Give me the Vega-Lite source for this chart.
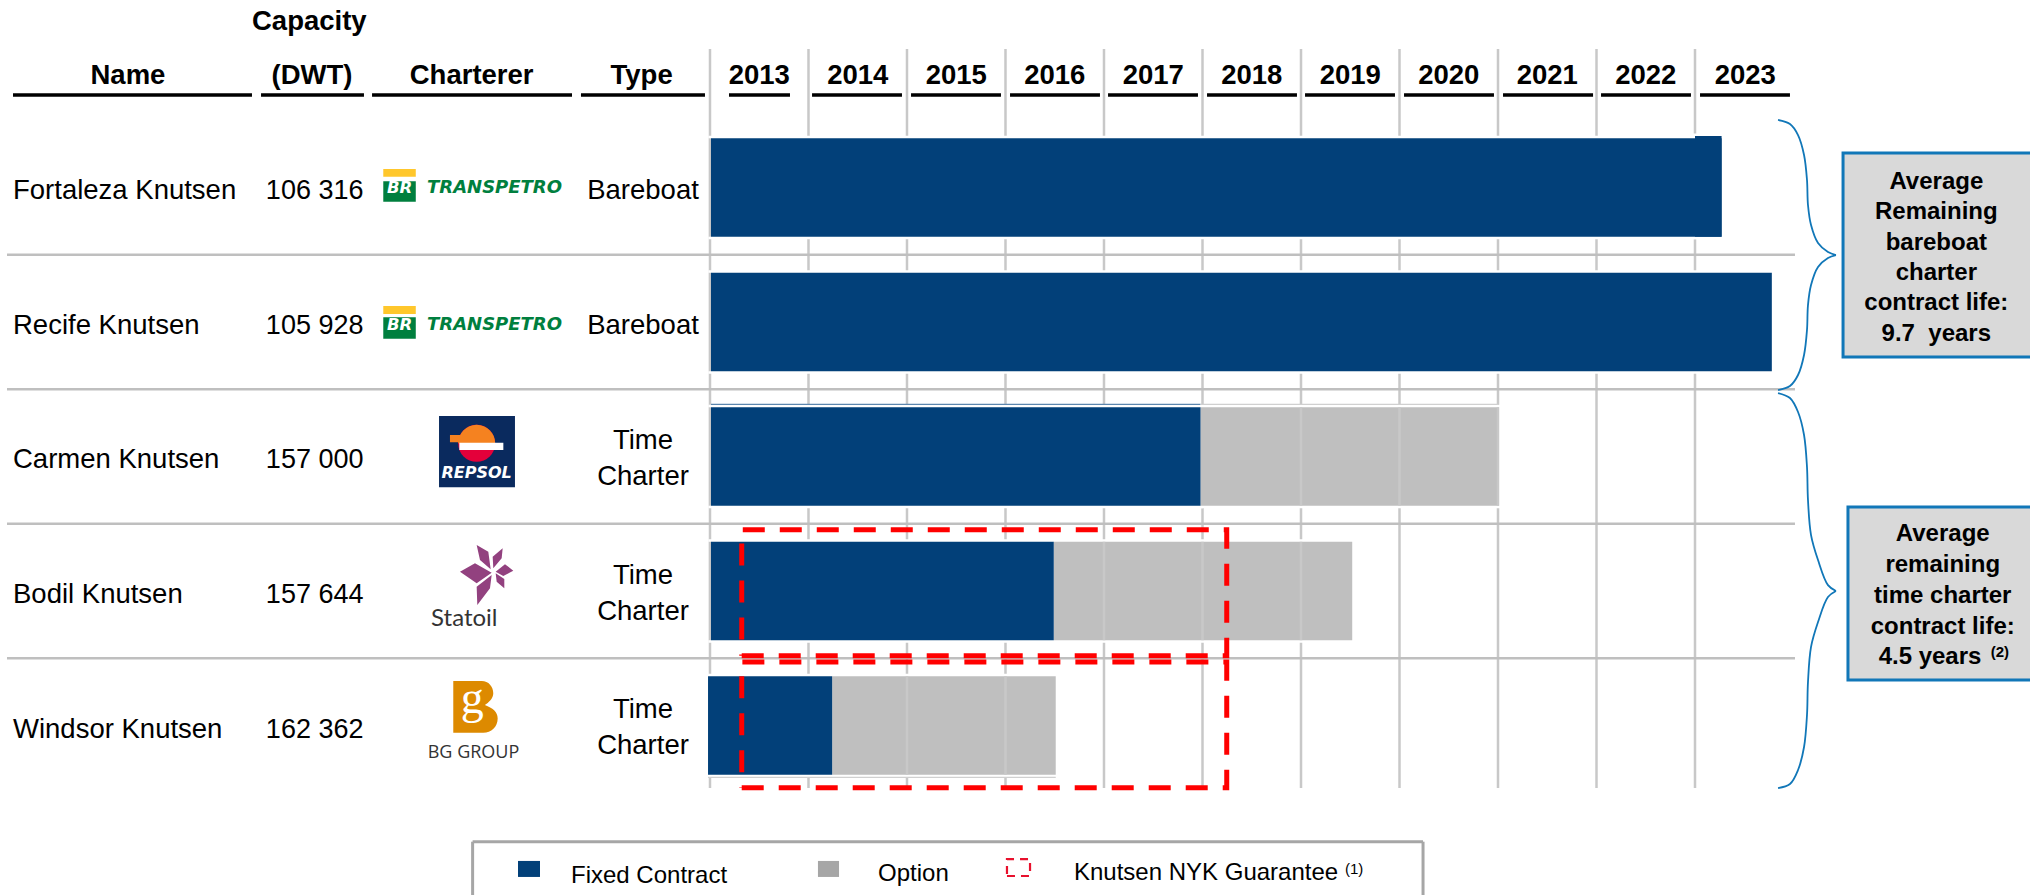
{"$schema":"https://vega.github.io/schema/vega-lite/v6.json","width":2030,"height":895,"padding":0,"autosize":{"type":"none"},"background":"#ffffff","config":{"view":{"stroke":null},"text":{"font":"Liberation Sans","fontSize":27.5,"color":"#000000"}},
"datasets":{
"grid":[{"year":2013,"row":-0.0297,"rowEnd":5.4647},{"year":2014,"row":-0.0297,"rowEnd":5.4647},{"year":2015,"row":-0.0297,"rowEnd":5.4647},{"year":2016,"row":-0.0297,"rowEnd":5.4647},{"year":2017,"row":-0.0297,"rowEnd":5.4647},{"year":2018,"row":-0.0297,"rowEnd":5.4647},{"year":2019,"row":-0.0297,"rowEnd":5.4647},{"year":2020,"row":-0.0297,"rowEnd":5.4647},{"year":2021,"row":-0.0297,"rowEnd":5.4647},{"year":2022,"row":-0.0297,"rowEnd":5.4647},{"year":2023,"row":-0.0297,"rowEnd":5.4647}],
"bars":[
{"name":"Fortaleza Knutsen","kind":"Fixed Contract","year":2013.01,"yearEnd":2023.27,"row":0.634,"rowEnd":1.366},
{"name":"Fortaleza Knutsen","kind":"Fixed Contract","year":2023.0,"yearEnd":2023.27,"row":0.617,"rowEnd":1.366},
{"name":"Recife Knutsen","kind":"Fixed Contract","year":2013.01,"yearEnd":2023.78,"row":1.634,"rowEnd":2.366},
{"name":"Carmen Knutsen","kind":"Fixed Contract","year":2013.01,"yearEnd":2017.98,"row":2.634,"rowEnd":3.366},
{"name":"Carmen Knutsen","kind":"Option","year":2017.98,"yearEnd":2021.01,"row":2.634,"rowEnd":3.366},
{"name":"Bodil Knutsen","kind":"Fixed Contract","year":2013.01,"yearEnd":2016.49,"row":3.634,"rowEnd":4.366},
{"name":"Bodil Knutsen","kind":"Option","year":2016.49,"yearEnd":2019.52,"row":3.634,"rowEnd":4.366},
{"name":"Windsor Knutsen","kind":"Fixed Contract","year":2012.98,"yearEnd":2014.24,"row":4.634,"rowEnd":5.366},
{"name":"Windsor Knutsen","kind":"Option","year":2014.24,"yearEnd":2016.51,"row":4.634,"rowEnd":5.366}],
"innerGrid":[
{"year":2013,"row":0.634,"rowEnd":1.366},{"year":2013,"row":1.634,"rowEnd":2.366},{"year":2013,"row":2.634,"rowEnd":3.366},{"year":2013,"row":3.634,"rowEnd":4.366},
{"year":2019,"row":2.634,"rowEnd":3.366},{"year":2020,"row":2.634,"rowEnd":3.366},{"year":2021,"row":2.634,"rowEnd":3.366},
{"year":2017,"row":3.634,"rowEnd":4.366},{"year":2018,"row":3.634,"rowEnd":4.366},{"year":2019,"row":3.634,"rowEnd":4.366},
{"year":2015,"row":4.634,"rowEnd":5.366},{"year":2016,"row":4.634,"rowEnd":5.366}]
},
"encoding":{
"x":{"field":"year","type":"quantitative","axis":null,"scale":{"domain":[2005.7919,2026.401],"nice":false,"zero":false}},
"y":{"field":"row","type":"quantitative","axis":null,"scale":{"domain":[-0.3941,6.2602],"nice":false,"zero":false,"reverse":true}}},
"layer":[
{"data":{"name":"grid"},"mark":{"type":"rule","stroke":"#C8C8C8","strokeWidth":2.5},"encoding":{"y2":{"field":"rowEnd"}}},
{"data":{"values":[{"year":2005.863,"yearEnd":2024.015,"row":1.5},{"year":2005.863,"yearEnd":2024.015,"row":2.5},{"year":2005.863,"yearEnd":2024.015,"row":3.5},{"year":2005.863,"yearEnd":2024.015,"row":4.5}]},"mark":{"type":"rule","stroke":"#BFBFBF","strokeWidth":2.5},"encoding":{"x2":{"field":"yearEnd"}}},
{"data":{"values":[{"year":2005.924,"yearEnd":2008.35,"row":0.3123},{"year":2008.442,"yearEnd":2009.487,"row":0.3123},{"year":2009.569,"yearEnd":2011.599,"row":0.3123},{"year":2011.69,"yearEnd":2012.949,"row":0.3123},{"year":2013.193,"yearEnd":2013.812,"row":0.3123},{"year":2014.036,"yearEnd":2014.949,"row":0.3123},{"year":2015.041,"yearEnd":2015.954,"row":0.3123},{"year":2016.046,"yearEnd":2016.959,"row":0.3123},{"year":2017.041,"yearEnd":2017.954,"row":0.3123},{"year":2018.046,"yearEnd":2018.959,"row":0.3123},{"year":2019.041,"yearEnd":2019.954,"row":0.3123},{"year":2020.046,"yearEnd":2020.959,"row":0.3123},{"year":2021.051,"yearEnd":2021.965,"row":0.3123},{"year":2022.046,"yearEnd":2022.959,"row":0.3123},{"year":2023.051,"yearEnd":2023.964,"row":0.3123}]},"mark":{"type":"rule","stroke":"#000000","strokeWidth":3.6},"encoding":{"x2":{"field":"yearEnd"}}},
{"data":{"name":"bars"},"mark":{"type":"rect","fill":"#ffffff","stroke":"#ffffff","strokeWidth":5},"encoding":{"x2":{"field":"yearEnd"},"y2":{"field":"rowEnd"}}},
{"data":{"values":[{"year":2013.01,"yearEnd":2017.98,"row":2.612}]},"mark":{"type":"rule","stroke":"#5B86AE","strokeWidth":1.2},"encoding":{"x2":{"field":"yearEnd"}}},
{"data":{"values":[{"year":2017.98,"yearEnd":2021.01,"row":2.612},{"year":2012.98,"yearEnd":2016.51,"row":5.385}]},"mark":{"type":"rule","stroke":"#D0D0D0","strokeWidth":1.2},"encoding":{"x2":{"field":"yearEnd"}}},
{"data":{"name":"bars"},"transform":[{"filter":"datum.kind === 'Option'"}],"mark":{"type":"rect","fill":"#BFBFBF"},"encoding":{"x2":{"field":"yearEnd"},"y2":{"field":"rowEnd"}}},
{"data":{"name":"innerGrid"},"mark":{"type":"rule","stroke":"#C8C8C8","strokeWidth":2.5},"encoding":{"y2":{"field":"rowEnd"}}},
{"data":{"name":"bars"},"transform":[{"filter":"datum.kind === 'Fixed Contract'"}],"mark":{"type":"rect","fill":"#024079"},"encoding":{"x2":{"field":"yearEnd"},"y2":{"field":"rowEnd"}}},
{"data":{"values":[{"label":"Capacity","year":2008.932,"row":-0.228},{"label":"(DWT)","year":2008.959,"row":0.174},{"label":"Name","year":2007.091,"row":0.174},{"label":"Charterer","year":2010.58,"row":0.174},{"label":"Type","year":2012.306,"row":0.174},{"label":"2013","year":2013.5,"row":0.174},{"label":"2014","year":2014.5,"row":0.174},{"label":"2015","year":2015.5,"row":0.174},{"label":"2016","year":2016.5,"row":0.174},{"label":"2017","year":2017.5,"row":0.174},{"label":"2018","year":2018.5,"row":0.174},{"label":"2019","year":2019.5,"row":0.174},{"label":"2020","year":2020.5,"row":0.174},{"label":"2021","year":2021.5,"row":0.174},{"label":"2022","year":2022.5,"row":0.174},{"label":"2023","year":2023.51,"row":0.174}]},"mark":{"type":"text","fontWeight":"bold","fontSize":27.5,"align":"center","baseline":"middle"},"encoding":{"text":{"field":"label"}}},
{"data":{"values":[{"label":"Fortaleza Knutsen","year":2005.924,"row":1.025},{"label":"Recife Knutsen","year":2005.924,"row":2.03},{"label":"Carmen Knutsen","year":2005.924,"row":3.025},{"label":"Bodil Knutsen","year":2005.924,"row":4.03},{"label":"Windsor Knutsen","year":2005.924,"row":5.03}]},"mark":{"type":"text","align":"left","baseline":"middle"},"encoding":{"text":{"field":"label"}}},
{"data":{"values":[{"label":"106 316","year":2009.482,"row":1.025},{"label":"105 928","year":2009.482,"row":2.03},{"label":"157 000","year":2009.482,"row":3.025},{"label":"157 644","year":2009.482,"row":4.03},{"label":"162 362","year":2009.482,"row":5.03}]},"mark":{"type":"text","fontSize":27,"align":"right","baseline":"middle"},"encoding":{"text":{"field":"label"}}},
{"data":{"values":[{"label":"Bareboat","year":2012.32,"row":1.025},{"label":"Bareboat","year":2012.32,"row":2.03},{"label":"Time\nCharter","year":2012.32,"row":2.888},{"label":"Time\nCharter","year":2012.32,"row":3.892},{"label":"Time\nCharter","year":2012.32,"row":4.888}]},"mark":{"type":"text","align":"center","baseline":"middle","lineBreak":"\n","lineHeight":36},"encoding":{"text":{"field":"label"}}},
{"data":{"values":[{"year":2009.683,"yearEnd":2010.013,"row":0.862,"rowEnd":0.92},{"year":2009.683,"yearEnd":2010.013,"row":1.881,"rowEnd":1.941}]},"mark":{"type":"rect","fill":"#FFC72C"},"encoding":{"x2":{"field":"yearEnd"},"y2":{"field":"rowEnd"}}},
{"data":{"values":[{"year":2009.683,"yearEnd":2010.013,"row":0.954,"rowEnd":1.106},{"year":2009.683,"yearEnd":2010.013,"row":1.965,"rowEnd":2.124}]},"mark":{"type":"rect","fill":"#007F3E"},"encoding":{"x2":{"field":"yearEnd"},"y2":{"field":"rowEnd"}}},
{"data":{"values":[{"label":"BR","year":2009.848,"row":1.005},{"label":"BR","year":2009.848,"row":2.02}]},"mark":{"type":"text","font":"DejaVu Sans","fontWeight":"bold","fontStyle":"italic","fontSize":16.5,"color":"#ffffff","align":"center","baseline":"middle"},"encoding":{"text":{"field":"label"}}},
{"data":{"values":[{"label":"TRANSPETRO","year":2010.127,"row":1.002},{"label":"TRANSPETRO","year":2010.127,"row":2.023}]},"mark":{"type":"text","font":"DejaVu Sans","fontWeight":"bold","fontStyle":"italic","fontSize":18,"color":"#007F3E","align":"left","baseline":"middle"},"encoding":{"text":{"field":"label"}}},
{"data":{"values":[{"year":2010.249,"yearEnd":2011.02,"row":2.699,"rowEnd":3.229}]},"mark":{"type":"rect","fill":"#0A2A5E"},"encoding":{"x2":{"field":"yearEnd"},"y2":{"field":"rowEnd"}}},
{"data":{"values":[{"year":2010.631,"row":2.902}]},"mark":{"type":"point","shape":"circle","filled":true,"size":1369,"fill":"#E4003A","opacity":1,"strokeWidth":0}},
{"data":{"values":[{"year":2010.631,"row":2.902}]},"mark":{"type":"point","shape":"M-1,0 C-1,-0.55 -0.55,-1 0,-1 C0.55,-1 1,-0.55 1,0 Z","filled":true,"size":1369,"fill":"#F58220","opacity":1,"strokeWidth":0}},
{"data":{"values":[{"year":2010.36,"yearEnd":2010.462,"row":2.84,"rowEnd":2.894}]},"mark":{"type":"rect","fill":"#F58220"},"encoding":{"x2":{"field":"yearEnd"},"y2":{"field":"rowEnd"}}},
{"data":{"values":[{"year":2010.455,"yearEnd":2010.902,"row":2.897,"rowEnd":2.952}]},"mark":{"type":"rect","fill":"#ffffff"},"encoding":{"x2":{"field":"yearEnd"},"y2":{"field":"rowEnd"}}},
{"data":{"values":[{"label":"REPSOL","year":2010.631,"row":3.12}]},"mark":{"type":"text","font":"DejaVu Sans","fontWeight":"bold","fontStyle":"italic","fontSize":16,"color":"#ffffff","align":"center","baseline":"middle"},"encoding":{"text":{"field":"label"}}},
{"data":{"values":[{"year":2010.807,"row":3.851}]},"mark":{"type":"point","filled":true,"size":6400,"fill":"#92417F","opacity":1,"strokeWidth":0,"shape":"M-.433,-.65 L-.142,-.483 L-.083,-.042 L-.35,-.275 Z M.217,-.567 L.192,-.317 L-.017,-.067 L-.033,-.358 Z M.483,-.008 L.233,.125 L.042,.017 L.275,-.167 Z M.258,.433 L.067,.267 L.042,.058 L.258,.2 Z M-.417,.85 L-.433,.392 L-.058,.1 L-.1,.433 Z M-.85,.017 L-.475,-.192 L-.058,.042 L-.433,.308 Z"}},
{"data":{"values":[{"label":"Statoil","year":2010.168,"row":4.208}]},"mark":{"type":"text","font":"Lato","fontSize":24,"color":"#333333","align":"left","baseline":"middle"},"encoding":{"text":{"field":"label"}}},
{"data":{"values":[{"year":2010.617,"row":4.86}]},"mark":{"type":"point","filled":true,"size":2844,"fill":"#DD8A00","opacity":1,"strokeWidth":0,"shape":"M-.825,-.96 L.24,-.96 C.5,-.96 .675,-.75 .675,-.5 C.675,-.3 .5,-.15 .36,-.06 C.65,.05 .84,.2 .84,.44 C.84,.75 .6,.975 .3,.975 L-.825,.975 Z"}},
{"data":{"values":[{"label":"g","year":2010.587,"row":4.907}]},"mark":{"type":"text","font":"Liberation Serif","fontSize":46,"color":"#ffffff","align":"center","baseline":"alphabetic"},"encoding":{"text":{"field":"label"}}},
{"data":{"values":[{"label":"BG GROUP","year":2010.599,"row":5.204}]},"mark":{"type":"text","font":"Open Sans","fontSize":18,"color":"#333333","align":"center","baseline":"middle"},"encoding":{"text":{"field":"label"}}},
{"data":{"values":[{"group":"Box A","seq":1,"year":2013.322,"row":4.481},{"group":"Box A","seq":2,"year":2018.246,"row":4.481},{"group":"Box A","seq":3,"year":2018.246,"row":3.544},{"group":"Box A","seq":4,"year":2013.322,"row":3.544},{"group":"Box A","seq":5,"year":2013.322,"row":4.481},{"group":"Box B","seq":1,"year":2013.322,"row":5.462},{"group":"Box B","seq":2,"year":2018.246,"row":5.462},{"group":"Box B","seq":3,"year":2018.246,"row":4.528},{"group":"Box B","seq":4,"year":2013.322,"row":4.528},{"group":"Box B","seq":5,"year":2013.322,"row":5.462}]},"mark":{"type":"line","stroke":"#FF0000","strokeWidth":5,"strokeDash":[22,15]},"encoding":{"order":{"field":"seq","type":"quantitative"},"detail":{"field":"group"}}},
{"data":{"values":[
{"part":"a","year":2023.843,"row":0.498},{"part":"a","year":2023.964,"row":0.528},{"part":"a","year":2024.046,"row":0.61},{"part":"a","year":2024.107,"row":0.758},{"part":"a","year":2024.137,"row":0.944},{"part":"a","year":2024.147,"row":1.13},{"part":"a","year":2024.178,"row":1.279},{"part":"a","year":2024.249,"row":1.413},{"part":"a","year":2024.35,"row":1.48},{"part":"a","year":2024.431,"row":1.502},
{"part":"b","year":2024.431,"row":1.502},{"part":"b","year":2024.35,"row":1.524},{"part":"b","year":2024.249,"row":1.591},{"part":"b","year":2024.178,"row":1.725},{"part":"b","year":2024.147,"row":1.874},{"part":"b","year":2024.137,"row":2.059},{"part":"b","year":2024.107,"row":2.245},{"part":"b","year":2024.046,"row":2.394},{"part":"b","year":2023.964,"row":2.476},{"part":"b","year":2023.843,"row":2.506},
{"part":"c","year":2023.843,"row":2.528},{"part":"c","year":2023.964,"row":2.565},{"part":"c","year":2024.046,"row":2.669},{"part":"c","year":2024.107,"row":2.84},{"part":"c","year":2024.137,"row":3.078},{"part":"c","year":2024.147,"row":3.323},{"part":"c","year":2024.178,"row":3.584},{"part":"c","year":2024.249,"row":3.77},{"part":"c","year":2024.35,"row":3.956},{"part":"c","year":2024.431,"row":4.0},
{"part":"d","year":2024.431,"row":4.0},{"part":"d","year":2024.35,"row":4.045},{"part":"d","year":2024.249,"row":4.231},{"part":"d","year":2024.178,"row":4.416},{"part":"d","year":2024.147,"row":4.677},{"part":"d","year":2024.137,"row":4.922},{"part":"d","year":2024.107,"row":5.16},{"part":"d","year":2024.046,"row":5.331},{"part":"d","year":2023.964,"row":5.435},{"part":"d","year":2023.843,"row":5.465}]},"mark":{"type":"line","stroke":"#1177B8","strokeWidth":1.8,"interpolate":"catmull-rom"},"encoding":{"order":{"field":"row","type":"quantitative"},"detail":{"field":"part"}}},
{"data":{"values":[{"year":2024.503,"yearEnd":2026.5,"row":0.7435,"rowEnd":2.26},{"year":2024.553,"yearEnd":2026.5,"row":3.375,"rowEnd":4.662}]},"mark":{"type":"rect","fill":"#D9D9D9","stroke":"#1177B8","strokeWidth":3},"encoding":{"x2":{"field":"yearEnd"},"y2":{"field":"rowEnd"}}},
{"data":{"values":[{"label":"Average\nRemaining\nbareboat\ncharter\ncontract life:\n9.7\u00a0 years","year":2025.45,"row":0.958}]},"mark":{"type":"text","fontWeight":"bold","fontSize":24,"align":"center","baseline":"middle","lineBreak":"\n","lineHeight":30.4},"encoding":{"text":{"field":"label"}}},
{"data":{"values":[{"label":"Average\nremaining\ntime charter\ncontract life:","year":2025.515,"row":3.575}]},"mark":{"type":"text","fontWeight":"bold","fontSize":24,"align":"center","baseline":"middle","lineBreak":"\n","lineHeight":31},"encoding":{"text":{"field":"label"}}},
{"data":{"values":[{"label":"4.5 years","year":2025.386,"row":4.489}]},"mark":{"type":"text","fontWeight":"bold","fontSize":24,"align":"center","baseline":"middle"},"encoding":{"text":{"field":"label"}}},
{"data":{"values":[{"label":"(2)","year":2026.096,"row":4.454}]},"mark":{"type":"text","fontWeight":"bold","fontSize":15,"align":"center","baseline":"middle"},"encoding":{"text":{"field":"label"}}},
{"data":{"values":[{"year":2010.59,"yearEnd":2020.239,"row":5.864}]},"mark":{"type":"rule","stroke":"#A6A6A6","strokeWidth":3},"encoding":{"x2":{"field":"yearEnd"}}},
{"data":{"values":[{"year":2010.59,"row":5.864,"rowEnd":6.2602},{"year":2020.239,"row":5.864,"rowEnd":6.2602}]},"mark":{"type":"rule","stroke":"#A6A6A6","strokeWidth":3},"encoding":{"y2":{"field":"rowEnd"}}},
{"data":{"values":[{"year":2011.051,"yearEnd":2011.274,"row":6.007,"rowEnd":6.126}]},"mark":{"type":"rect","fill":"#024079"},"encoding":{"x2":{"field":"yearEnd"},"y2":{"field":"rowEnd"}}},
{"data":{"values":[{"year":2014.096,"yearEnd":2014.31,"row":6.007,"rowEnd":6.126}]},"mark":{"type":"rect","fill":"#A6A6A6"},"encoding":{"x2":{"field":"yearEnd"},"y2":{"field":"rowEnd"}}},
{"data":{"values":[{"seq":1,"year":2016.015,"row":6.119},{"seq":2,"year":2016.249,"row":6.119},{"seq":3,"year":2016.249,"row":5.993},{"seq":4,"year":2016.015,"row":5.993},{"seq":5,"year":2016.015,"row":6.119}]},"mark":{"type":"line","stroke":"#E8112D","strokeWidth":2.2,"strokeDash":[8,6]},"encoding":{"order":{"field":"seq","type":"quantitative"}}},
{"data":{"values":[{"label":"Fixed Contract","year":2011.589,"row":6.12},{"label":"Option","year":2014.706,"row":6.105},{"label":"Knutsen NYK Guarantee","year":2016.695,"row":6.1}]},"mark":{"type":"text","fontSize":24,"align":"left","baseline":"middle"},"encoding":{"text":{"field":"label"}}},
{"data":{"values":[{"label":"(1)","year":2019.447,"row":6.067}]},"mark":{"type":"text","fontSize":15,"align":"left","baseline":"middle"},"encoding":{"text":{"field":"label"}}}
]}
